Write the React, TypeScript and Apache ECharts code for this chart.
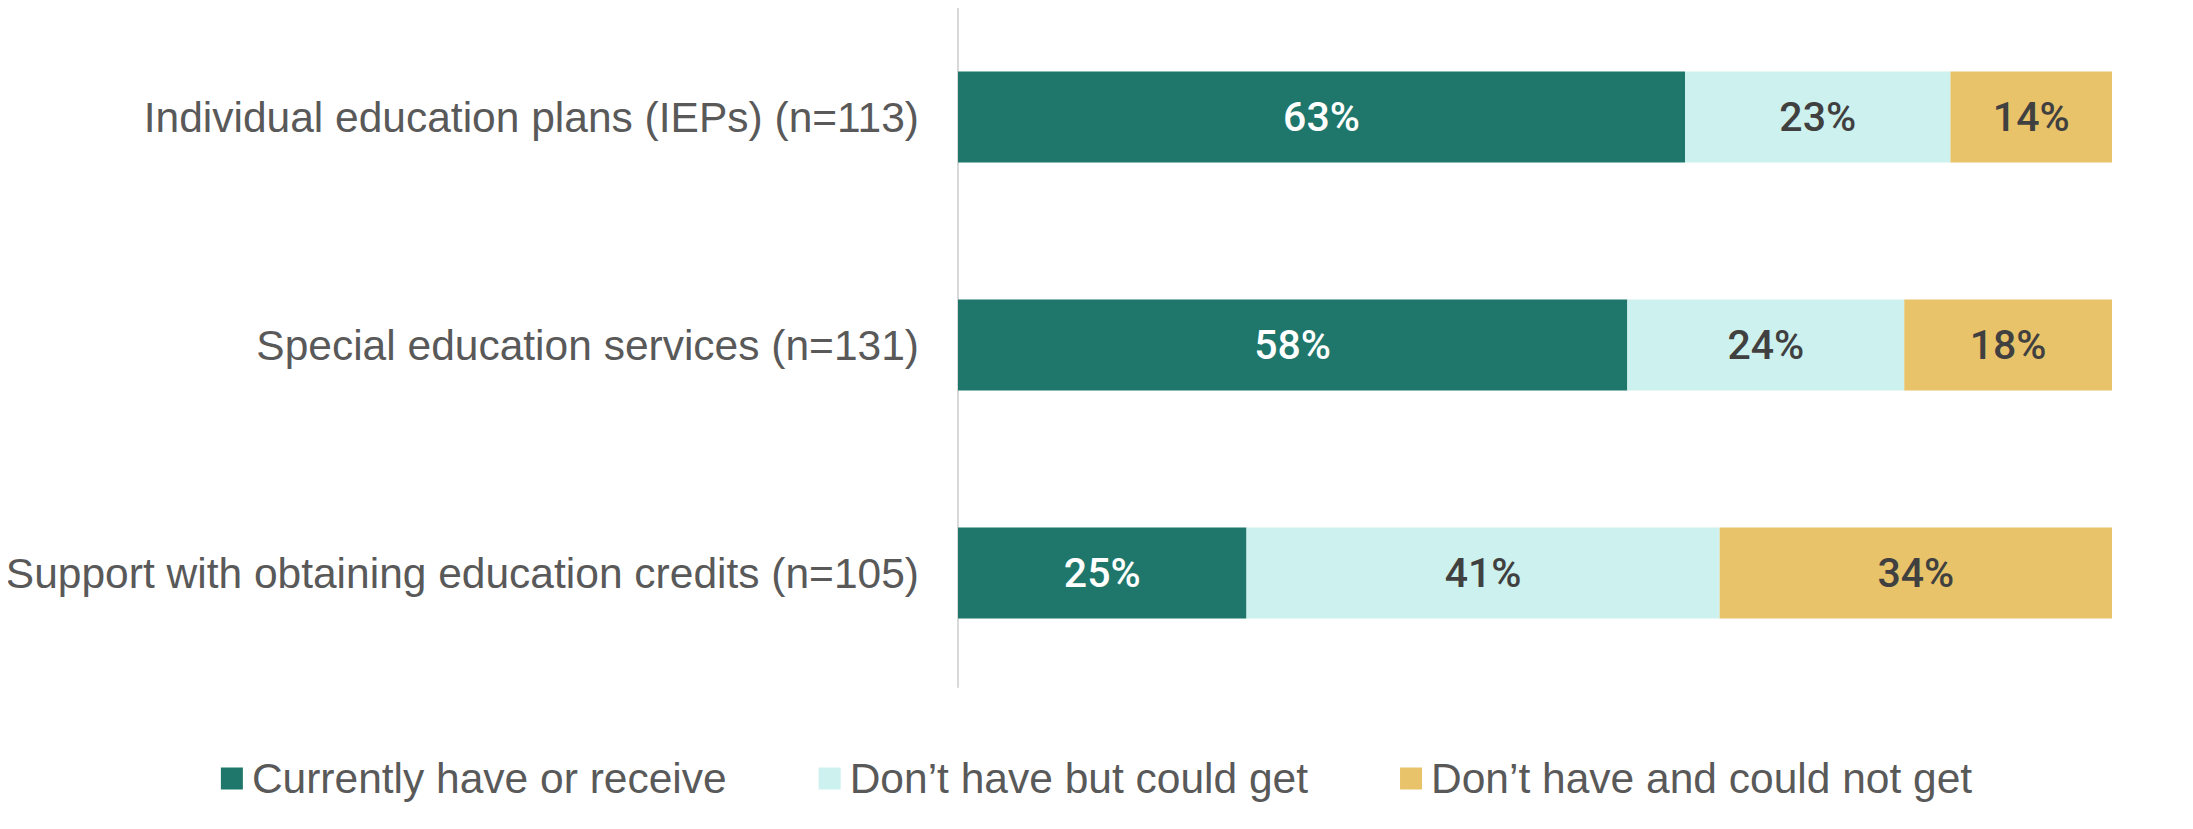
import React, { useEffect, useRef } from "react";
import * as echarts from "echarts";

const categories = [
  "Individual education plans (IEPs) (n=113)",
  "Special education services (n=131)",
  "Support with obtaining education credits (n=105)",
];
const seriesNames = [
  "Currently have or receive",
  "Don\u2019t have but could get",
  "Don\u2019t have and could not get",
];
const currentlyHave = [63, 58, 25];
const couldGet = [23, 24, 41];
const couldNotGet = [14, 18, 34];
const colors = ["#1F776B", "#CDF1EE", "#E8C36A"];
const labelColors = ["#FFFFFF", "#404040", "#404040"];

export default function App() {
  const ref = useRef<HTMLDivElement>(null);
  useEffect(() => {
    if (!ref.current) return;
    const chart = echarts.init(ref.current, null, { renderer: "svg" });
    const data = [currentlyHave, couldGet, couldNotGet];
    chart.setOption({
      animation: false,
      backgroundColor: "#FFFFFF",
      grid: { left: 958, top: 3, width: 1154, height: 684, containLabel: false },
      xAxis: {
        type: "value",
        min: 0,
        max: 100,
        show: false,
      },
      yAxis: {
        type: "category",
        data: categories,
        inverse: true,
        axisLine: { show: true, lineStyle: { color: "#D9D9D9", width: 2 } },
        axisTick: { show: false },
        axisLabel: {
          margin: 39,
          color: "#595959",
          fontFamily: "Liberation Sans, Arial, sans-serif",
          fontSize: 42.5,
        },
      },
      legend: {
        bottom: 24,
        left: "center",
        itemWidth: 22,
        itemHeight: 22,
        itemGap: 92,
        icon: "rect",
        textStyle: {
          color: "#595959",
          fontFamily: "Liberation Sans, Arial, sans-serif",
          fontSize: 42.5,
          padding: [0, 0, 0, 4],
        },
        data: seriesNames,
      },
      graphic: [
        {
          type: "line",
          shape: { x1: 0, y1: 828, x2: 2193, y2: 828 },
          style: { stroke: "#BFBFBF", lineWidth: 2 },
        },
      ],
      series: seriesNames.map((name, i) => ({
        name,
        type: "bar",
        stack: "total",
        barWidth: 91,
        data: data[i],
        itemStyle: { color: colors[i] },
        label: {
          show: true,
          position: "inside",
          formatter: (p: any) => `${p.value}%`,
          color: labelColors[i],
          fontFamily: "Roboto, sans-serif",
          fontWeight: 500,
          fontSize: 41,
        },
      })),
    });
    return () => chart.dispose();
  }, []);
  return <div ref={ref} style={{ width: 2193, height: 829, margin: -8 }} />;
}
